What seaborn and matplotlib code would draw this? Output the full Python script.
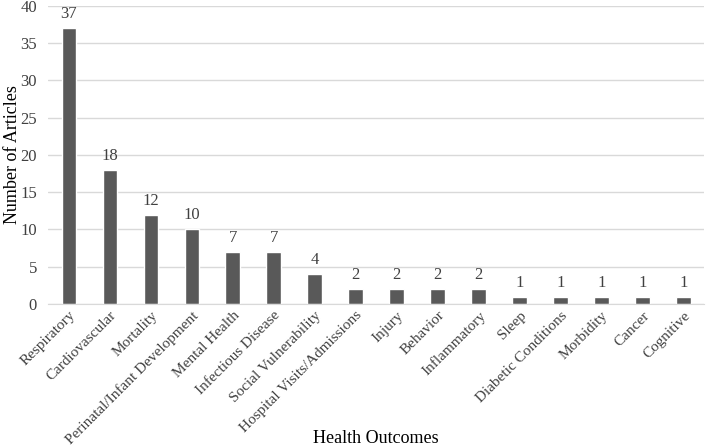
import seaborn as sns
import matplotlib.pyplot as plt
import pandas as pd

outcomes = ["Respiratory", "Cardiovascular", "Mortality", "Perinatal/Infant Development",
            "Mental Health", "Infectious Disease", "Social Vulnerability",
            "Hospital Visits/Admissions", "Injury", "Behavior", "Inflammatory", "Sleep",
            "Diabetic Conditions", "Morbidity", "Cancer", "Cognitive"]
counts = [37, 18, 12, 10, 7, 7, 4, 2, 2, 2, 2, 1, 1, 1, 1, 1]
y_ticks = [0, 5, 10, 15, 20, 25, 30, 35, 40]

df = pd.DataFrame({"outcome": outcomes, "count": counts})

sns.set_style("white")
plt.rcParams['font.family'] = ['Liberation Serif', 'DejaVu Serif']

fig = plt.figure(figsize=(7.09, 4.47), dpi=100)
ax = fig.add_axes([0.068, 0.32, 0.925, 0.667])

sns.barplot(data=df, x="outcome", y="count", color="#595959", saturation=1,
            width=0.35, ax=ax)

ax.set_ylim(0, 40)
ax.set_yticks(y_ticks)
ax.set_xlim(-0.5, len(outcomes) - 0.5)
ax.yaxis.grid(True, color="#d9d9d9", linewidth=1)
ax.set_axisbelow(True)
for s in ["top", "right", "left"]:
    ax.spines[s].set_visible(False)
ax.spines["bottom"].set_color("#d9d9d9")
ax.tick_params(axis="x", length=0, labelsize=11, labelcolor="#404040")
ax.tick_params(axis="y", length=0, labelsize=12, labelcolor="#404040", pad=8)
plt.setp(ax.get_xticklabels(), rotation=45, ha="right", rotation_mode="anchor")

for i, v in enumerate(counts):
    ax.text(i, v + 0.8, str(v), ha="center", va="bottom", fontsize=12, color="#404040")

ax.set_xlabel("Health Outcomes", fontsize=13, color="black", va="center")
ax.set_ylabel("Number of Articles", fontsize=13, color="black", va="center")
ax.xaxis.set_label_coords(0.5, -0.45)
ax.yaxis.set_label_coords(-0.055, 0.5)

fig.savefig("out.png", dpi=100)
